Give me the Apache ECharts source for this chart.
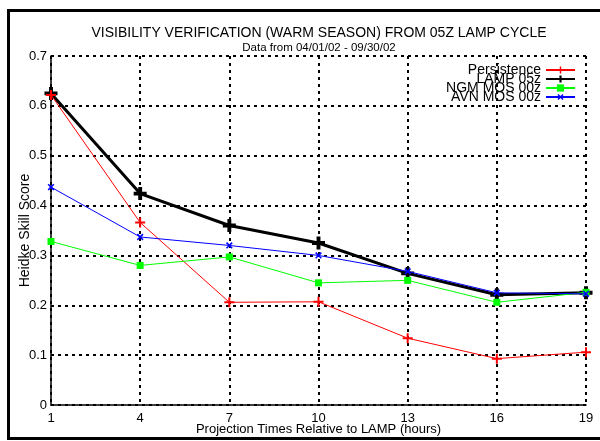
<!DOCTYPE html>
<html>
<head>
<meta charset="utf-8">
<script src="https://cdn.jsdelivr.net/npm/echarts@6/dist/echarts.min.js"></script>
<style>
  html, body { margin: 0; padding: 0; background: #fff; }
  #chart { width: 600px; height: 441px; }
</style>
</head>
<body>
<div id="chart"></div>
<script>
// projection hours and Heidke skill scores
const hours = [1, 4, 7, 10, 13, 16, 19];
const persistence = [0.622, 0.366, 0.206, 0.207, 0.134, 0.093, 0.106];
const lamp05z = [0.625, 0.424, 0.360, 0.325, 0.264, 0.221, 0.225];
const ngmMos00z = [0.328, 0.280, 0.297, 0.245, 0.250, 0.206, 0.226];
const avnMos00z = [0.437, 0.337, 0.320, 0.300, 0.268, 0.225, 0.223];

const seriesNames = ['Persistence', 'LAMP 05z', 'NGM MOS 00z', 'AVN MOS 00z'];

const FONT = 'Liberation Sans, Arial, sans-serif';
const PLUS = 'path://M4,0h2v4h4v2h-4v4h-2v-4h-4v-2h4z';
const PLUS_BOLD = 'path://M3.5,0h3v3.5h3.5v3h-3.5v3.5h-3v-3.5h-3.5v-3h3.5z';

function pairs(ys) {
  return hours.map((h, i) => [h, ys[i]]);
}

const chart = echarts.init(document.getElementById('chart'));

const gridLine = { show: true, lineStyle: { color: '#000', width: 2, type: [3, 4] } };

chart.setOption({
  animation: false,
  title: {
    text: 'VISIBILITY VERIFICATION (WARM SEASON) FROM 05Z LAMP CYCLE',
    subtext: 'Data from 04/01/02 - 09/30/02',
    left: 314,
    textAlign: 'center',
    top: 21,
    itemGap: 2,
    textStyle: { fontFamily: FONT, fontSize: 14, fontWeight: 'normal', color: '#000' },
    subtextStyle: { fontFamily: FONT, fontSize: 11.5, color: '#000' }
  },
  legend: {
    data: seriesNames,
    orient: 'vertical',
    right: 19,
    top: 58,
    align: 'right',
    itemWidth: 29,
    itemHeight: 9,
    itemGap: -5,
    textStyle: { fontFamily: FONT, fontSize: 14, color: '#000' }
  },
  grid: { left: 51, right: 14, top: 56, bottom: 25 },
  xAxis: {
    type: 'value',
    min: 1,
    max: 19,
    interval: 3,
    name: 'Projection Times Relative to LAMP (hours)',
    nameLocation: 'middle',
    nameGap: 18,
    nameMoveOverlap: false,
    nameTextStyle: { fontFamily: FONT, fontSize: 13, color: '#000' },
    axisLine: { show: true, lineStyle: { color: '#000', width: 1.5 } },
    axisTick: { show: false },
    axisLabel: { fontFamily: FONT, fontSize: 13, color: '#000', margin: 7 },
    splitLine: gridLine
  },
  yAxis: {
    type: 'value',
    min: 0,
    max: 0.7,
    interval: 0.1,
    name: 'Heidke Skill Score',
    nameLocation: 'middle',
    nameGap: 19,
    nameMoveOverlap: false,
    nameTextStyle: { fontFamily: FONT, fontSize: 14, color: '#000' },
    axisLine: { show: true, lineStyle: { color: '#000', width: 1.5 } },
    axisTick: { show: false },
    axisLabel: { fontFamily: FONT, fontSize: 13, color: '#000', margin: 4, padding: [5, 0, 0, 0] },
    splitLine: gridLine
  },
  graphic: [
    {
      type: 'rect',
      silent: true,
      z: 100,
      shape: { x: 8.5, y: 10.5, width: 700, height: 428 },
      style: { fill: 'none', stroke: '#000', lineWidth: 3 }
    }
  ],
  series: [
    {
      name: 'Persistence',
      type: 'line',
      data: pairs(persistence),
      symbol: PLUS,
      symbolSize: 10,
      lineStyle: { color: '#ff0000', width: 1 },
      itemStyle: { color: '#ff0000' },
      z: 3
    },
    {
      name: 'LAMP 05z',
      type: 'line',
      data: pairs(lamp05z),
      symbol: PLUS_BOLD,
      symbolSize: 13,
      lineStyle: { color: '#000', width: 3 },
      itemStyle: { color: '#000' },
      z: 2
    },
    {
      name: 'NGM MOS 00z',
      type: 'line',
      data: pairs(ngmMos00z),
      symbol: 'rect',
      symbolSize: 7,
      lineStyle: { color: '#00ff00', width: 1 },
      itemStyle: { color: '#00ff00' },
      z: 4
    },
    {
      name: 'AVN MOS 00z',
      type: 'line',
      data: pairs(avnMos00z),
      symbol: PLUS,
      symbolRotate: 45,
      symbolSize: 8,
      lineStyle: { color: '#0000ff', width: 1 },
      itemStyle: { color: '#0000ff' },
      z: 5
    }
  ]
});
</script>
</body>
</html>
